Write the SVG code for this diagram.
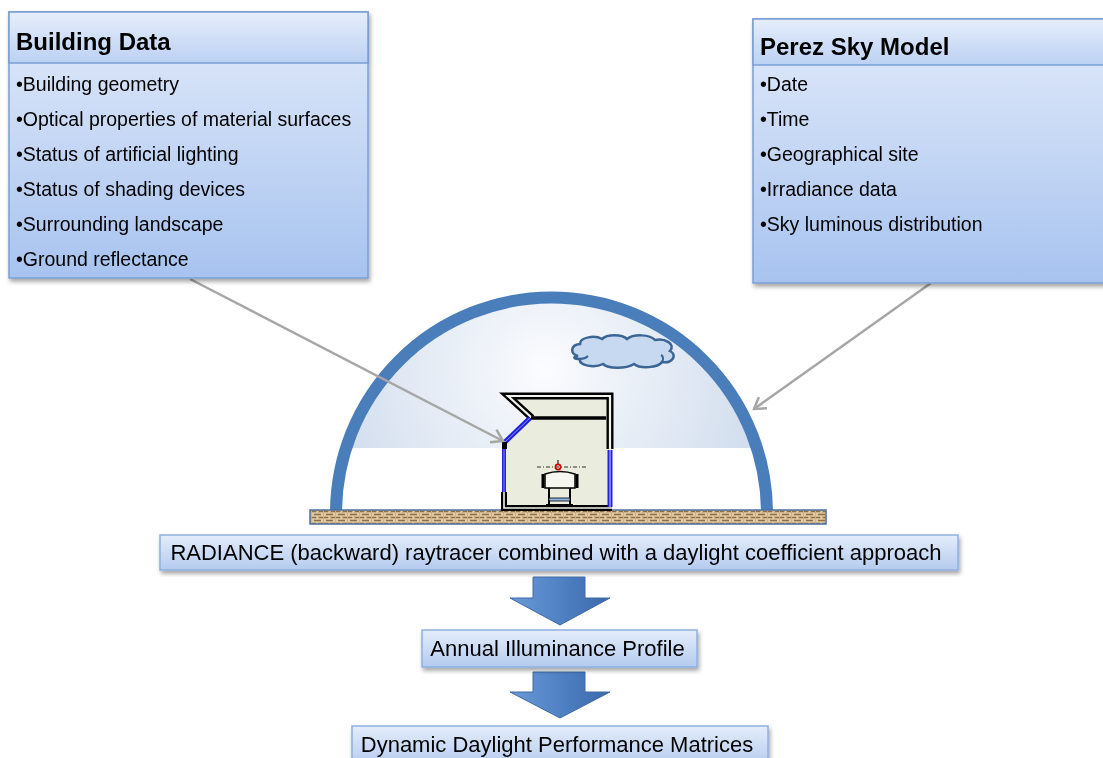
<svg xmlns="http://www.w3.org/2000/svg" width="1103" height="758" viewBox="0 0 1103 758">
  <style>
    .title { font-family: "Liberation Sans", Arial, sans-serif; font-weight: bold; font-size: 24px; fill: #000; }
    .item { font-family: "Liberation Sans", Arial, sans-serif; font-size: 19.5px; fill: #000; }
    .step { font-family: "Liberation Sans", Arial, sans-serif; font-size: 22px; fill: #000; }
    .panel { fill: url(#bodyGrad); stroke: #7a9fd4; stroke-width: 1.5; }
    .head { fill: url(#headGrad); stroke: #7a9fd4; stroke-width: 1.5; }
    .stepbox { fill: url(#stepGrad); stroke: #8fb0e0; stroke-width: 1.5; }
    .ray { fill: none; stroke: #a6a6a6; stroke-width: 2.5; }
    .blk { fill: url(#arrowGrad); stroke: #3e6aa6; stroke-width: 1; }
  </style>
  <defs>
    <linearGradient id="bodyGrad" x1="0" y1="0" x2="0" y2="1">
      <stop offset="0" stop-color="#e2ebfa"/>
      <stop offset="1" stop-color="#a7c3ef"/>
    </linearGradient>
    <linearGradient id="headGrad" x1="0" y1="0" x2="0" y2="1">
      <stop offset="0" stop-color="#e6eefb"/>
      <stop offset="1" stop-color="#bcd1f3"/>
    </linearGradient>
    <linearGradient id="stepGrad" x1="0" y1="0" x2="0" y2="1">
      <stop offset="0" stop-color="#e4edfb"/>
      <stop offset="1" stop-color="#b4cbef"/>
    </linearGradient>
    <linearGradient id="arrowGrad" x1="0" y1="0" x2="1" y2="0">
      <stop offset="0" stop-color="#6b9ad6"/>
      <stop offset="0.5" stop-color="#4f81c4"/>
      <stop offset="1" stop-color="#3b69aa"/>
    </linearGradient>
    <radialGradient id="skyGrad" cx="545" cy="370" r="215" gradientUnits="userSpaceOnUse">
      <stop offset="0" stop-color="#fbfcfe"/>
      <stop offset="1" stop-color="#d2deee"/>
    </radialGradient>
    <clipPath id="skyClip">
      <path d="M341.5,448 L341.5,512 A210,210 0 0 1 761.5,512 L761.5,448 Z"/>
    </clipPath>
    <pattern id="soil" width="12" height="6" patternUnits="userSpaceOnUse">
      <rect width="12" height="6" fill="#cdb288"/>
      <path d="M0,1.5 H5 M7,1.5 H11 M2,4.5 H9" stroke="#8d7048" stroke-width="1"/>
      <path d="M5,0 V3 M10,3 V6 M1,3 V6" stroke="#efe2c4" stroke-width="1"/>
    </pattern>
    <filter id="shadow" x="-5%" y="-5%" width="115%" height="125%">
      <feDropShadow dx="1.5" dy="3" stdDeviation="2" flood-color="#000" flood-opacity="0.35"/>
    </filter>
    <marker id="chev" markerWidth="16" markerHeight="16" refX="12" refY="8" orient="auto" markerUnits="userSpaceOnUse">
      <path d="M1,1 L12,8 L1,15" fill="none" stroke="#a6a6a6" stroke-width="2.5"/>
    </marker>
  </defs>

  <rect width="1103" height="758" fill="#ffffff"/>

  <!-- sky dome -->
  <g id="sky">
    <rect x="330" y="290" width="450" height="158" fill="url(#skyGrad)" clip-path="url(#skyClip)"/>
    <path d="M336,513 A215.5,215.5 0 0 1 767,513" fill="none" stroke="#4a7ebb" stroke-width="12"/>
  </g>

  <!-- cloud -->
  <g id="cloud">
    <path d="M578,356 C570,354 570,345 580,344 C580,337 595,335 602,339 C607,334 622,334 627,339 C633,334 650,334 655,340 C665,338 676,344 670,351 C678,355 672,364 662,362 C658,368 640,369 634,364 C626,369 608,369 603,364 C595,368 578,366 580,359 C574,359 572,357 578,356 Z" fill="#c6d9f0" stroke="#3b6595" stroke-width="2.5"/>
    <path d="M580,359 C584,359 587,357 588,356 M662,362 C664,359 663,356 661,355" fill="none" stroke="#3b6595" stroke-width="2"/>
  </g>

  <!-- ground -->
  <g id="ground">
    <rect x="310" y="510" width="516" height="14" fill="url(#soil)" stroke="#4b70a2" stroke-width="1.5"/>
  </g>

  <!-- building section -->
  <g id="building">
    <path d="M504,443 L530,418 L508,396 L612,396 L612,508 L504,508 Z" fill="#eaecdd"/>
    <!-- roof / walls as double lines -->
    <path d="M532,418 L508,396 L610,396 L610,449" fill="none" stroke="#000" stroke-width="7" stroke-linejoin="miter"/>
    <path d="M532,418 L508,396 L610,396 L610,449" fill="none" stroke="#f3f3ee" stroke-width="2.2"/>
    <path d="M531,418 L606,418" stroke="#000" stroke-width="3.5"/>
    <path d="M504,492 L504,508 L612,508" fill="none" stroke="#000" stroke-width="6"/>
    <path d="M504,492 L504,508 L612,508" fill="none" stroke="#f3f3ee" stroke-width="1.6"/>
    <!-- glazing -->
    <path d="M505,442 L530,418" stroke="#2323dc" stroke-width="5"/>
    <path d="M505,442 L530,418" stroke="#8e8ef2" stroke-width="1"/>
    <path d="M504,449 L504,492" stroke="#2323dc" stroke-width="4"/>
    <path d="M504,449 L504,492" stroke="#9a9af5" stroke-width="0.8"/>
    <path d="M610,450 L610,507" stroke="#2323dc" stroke-width="5"/>
    <path d="M610,450 L610,507" stroke="#b0b0f8" stroke-width="1.2"/>
    <rect x="502" y="442" width="5" height="7" fill="#000"/>
    <!-- work plane sensor and desk -->
    <path d="M537,467 L586,467" stroke="#000" stroke-width="0.8" stroke-dasharray="4,2,1,2"/>
    <path d="M558,460 L558,464" stroke="#000" stroke-width="1"/>
    <circle cx="558" cy="467" r="2.6" fill="none" stroke="#d00000" stroke-width="1.6"/>
    <path d="M545,474 Q560,469 575,474 L575,488 L545,488 Z" fill="#f6f6f0" stroke="#000" stroke-width="1.5"/>
    <path d="M543,474 L543,488 M577,474 L577,488" stroke="#000" stroke-width="3"/>
    <path d="M549,488 L549,506 M570,488 L570,506" stroke="#000" stroke-width="2"/>
    <rect x="549" y="498" width="21" height="3" fill="#8fb6e0" stroke="#000" stroke-width="0.8"/>
    <path d="M546,505 L573,505" stroke="#000" stroke-width="2"/>
  </g>

  <!-- connectors -->
  <g id="connectors">
    <path class="ray" d="M190,279 L503,441" marker-end="url(#chev)"/>
    <path class="ray" d="M931,283 L754,409" marker-end="url(#chev)"/>
    <path class="blk" d="M533,577 L585,577 L585,598 L610,598 L560,625 L510,598 L533,598 Z"/>
    <path class="blk" d="M533,672 L585,672 L585,692 L610,692 L560,718 L510,692 L533,692 Z"/>
  </g>

  <!-- Building Data panel -->
  <g id="building-data" filter="url(#shadow)">
    <rect class="panel" x="9" y="12" width="359" height="266"/>
    <rect class="head" x="9" y="12" width="359" height="51"/>
    <text class="title" x="16" y="50">Building Data</text>
    <text class="item" x="16" y="91">•Building geometry</text>
    <text class="item" x="16" y="126">•Optical properties of material surfaces</text>
    <text class="item" x="16" y="161">•Status of artificial lighting</text>
    <text class="item" x="16" y="196">•Status of shading devices</text>
    <text class="item" x="16" y="231">•Surrounding landscape</text>
    <text class="item" x="16" y="266">•Ground reflectance</text>
  </g>

  <!-- Perez Sky Model panel -->
  <g id="perez-sky" filter="url(#shadow)">
    <rect class="panel" x="753" y="19" width="360" height="264"/>
    <rect class="head" x="753" y="19" width="360" height="46"/>
    <text class="title" x="760" y="55">Perez Sky Model</text>
    <text class="item" x="760" y="91">•Date</text>
    <text class="item" x="760" y="126">•Time</text>
    <text class="item" x="760" y="161">•Geographical site</text>
    <text class="item" x="760" y="196">•Irradiance data</text>
    <text class="item" x="760" y="231">•Sky luminous distribution</text>
  </g>

  <!-- process steps -->
  <g id="radiance" filter="url(#shadow)">
    <rect class="stepbox" x="160" y="535" width="798" height="35"/>
    <text class="step" x="556" y="560" text-anchor="middle">RADIANCE (backward) raytracer combined with a daylight coefficient approach</text>
  </g>
  <g id="annual-profile" filter="url(#shadow)">
    <rect class="stepbox" x="422" y="630" width="275" height="37"/>
    <text class="step" x="557.5" y="656" text-anchor="middle">Annual Illuminance Profile</text>
  </g>
  <g id="performance" filter="url(#shadow)">
    <rect class="stepbox" x="352" y="726" width="416" height="40"/>
    <text class="step" x="557" y="752" text-anchor="middle">Dynamic Daylight Performance Matrices</text>
  </g>
</svg>
